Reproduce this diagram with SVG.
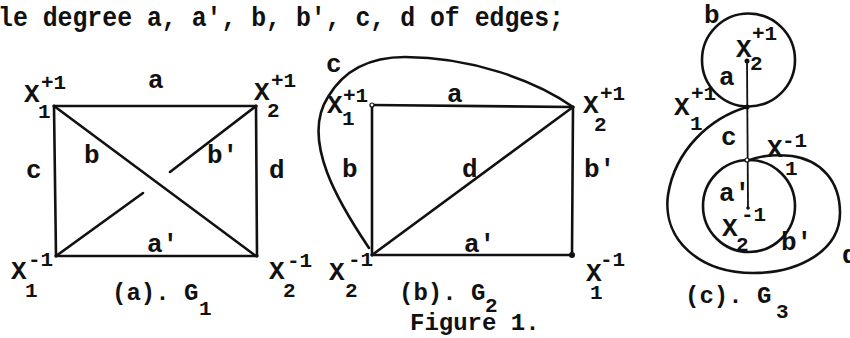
<svg xmlns="http://www.w3.org/2000/svg" width="850" height="338" viewBox="0 0 850 338">
<style>
text{font-family:"Liberation Mono","Courier New",monospace;font-weight:bold;fill:#111}
.l{font-size:26px}
.s{font-size:21px}
.t{font-size:24px}
.e{stroke:#111;stroke-width:2.6;fill:none;stroke-linecap:round}
.th{stroke:#111;stroke-width:1.8;fill:none}
.dot{fill:#111}
.od{fill:#fff;stroke:#111;stroke-width:1.2}
</style>
<rect width="850" height="338" fill="#fff"/>
<text class="t" x="-2" y="26" textLength="566" lengthAdjust="spacingAndGlyphs" style="font-size:27px">le degree a, a', b, b', c, d of edges;</text>

<g id="connectors">
  <g id="edges-a">
    <line class="e" x1="54" y1="106" x2="256" y2="106"/>
    <line class="e" x1="54" y1="106" x2="56" y2="256"/>
    <line class="e" x1="56" y1="256" x2="257" y2="256"/>
    <line class="e" x1="256" y1="106" x2="257" y2="256"/>
    <line class="e" x1="54" y1="106" x2="256" y2="256"/>
    <line class="e" x1="56" y1="256" x2="143" y2="193"/>
    <line class="e" x1="170" y1="172" x2="256" y2="106"/>
  </g>
  <g id="edges-b">
    <line class="e" x1="372" y1="105" x2="573" y2="107"/>
    <line class="e" x1="372" y1="105" x2="372" y2="255"/>
    <line class="e" x1="372" y1="255" x2="572" y2="255"/>
    <line class="e" x1="573" y1="107" x2="572" y2="255"/>
    <line class="e" x1="372" y1="255" x2="573" y2="107"/>
    <path class="e" d="M369,248 C340,205 300,140 328,97 C345,68 372,57 405,57 C470,57 535,80 573,107"/>
  </g>
  <g id="edges-c">
    <line class="th" x1="747" y1="61" x2="748" y2="208"/>
    <circle class="e" cx="748.5" cy="60" r="46.5"/>
    <circle class="e" cx="749" cy="206" r="46"/>
    <path class="e" d="M747,107 C710,118 675,150 668,195 C662,240 700,273 753,273 C800,273 840,250 840,213 C840,180 820,160 792,156 C772,154 756,157 747,161"/>
  </g>
</g>

<g id="a-X1p"><circle class="dot" cx="54" cy="106" r="1.5"/><text class="l" x="24" y="102">X</text><text class="s" x="41" y="89">+1</text><text class="s" x="38" y="118">1</text></g>
<g id="a-X2p"><circle class="dot" cx="256" cy="106" r="1.5"/><text class="l" x="254" y="100">X</text><text class="s" x="271" y="87">+1</text><text class="s" x="267" y="117">2</text></g>
<g id="a-X1m"><circle class="dot" cx="56" cy="256" r="1.5"/><text class="l" x="11" y="279">X</text><text class="s" x="28" y="266">-1</text><text class="s" x="25" y="297">1</text></g>
<g id="a-X2m"><circle class="dot" cx="257" cy="256" r="1.5"/><text class="l" x="269" y="279">X</text><text class="s" x="287" y="267">-1</text><text class="s" x="283" y="297">2</text></g>
<g id="a-labels">
  <text class="l" x="148" y="88">a</text>
  <text class="l" x="26" y="178">c</text>
  <text class="l" x="84" y="163">b</text>
  <text class="l" x="207" y="163">b'</text>
  <text class="l" x="269" y="178">d</text>
  <text class="l" x="147" y="252">a'</text>
  <text class="t" x="112" y="300">(a). G</text><text class="s" x="199" y="315">1</text>
</g>

<g id="b-X1p"><circle class="od" cx="372" cy="105" r="2"/><text class="l" x="327" y="113">X</text><text class="s" x="343" y="102">+1</text><text class="s" x="342" y="125">1</text></g>
<g id="b-X2p"><circle class="dot" cx="573" cy="107" r="1.5"/><text class="l" x="583" y="113">X</text><text class="s" x="600" y="100">+1</text><text class="s" x="594" y="131">2</text></g>
<g id="b-X2m"><circle class="dot" cx="372" cy="255" r="1.5"/><text class="l" x="329" y="280">X</text><text class="s" x="348" y="266">-1</text><text class="s" x="345" y="297">2</text></g>
<g id="b-X1m"><circle class="dot" cx="572" cy="255" r="3"/><text class="l" x="586" y="281">X</text><text class="s" x="600" y="266">-1</text><text class="s" x="590" y="299">1</text></g>
<g id="b-labels">
  <text class="l" x="326" y="72">c</text>
  <text class="l" x="447" y="102">a</text>
  <text class="l" x="342" y="177">b</text>
  <text class="l" x="462" y="177">d</text>
  <text class="l" x="584" y="177">b'</text>
  <text class="l" x="464" y="252">a'</text>
  <text class="t" x="399" y="300">(b). G</text><text class="s" x="485" y="312">2</text>
  <text class="t" x="410" y="330">Figure 1.</text>
</g>

<g id="c-X2p"><circle class="dot" cx="747" cy="61" r="2.5"/><text class="l" x="736" y="57">X</text><text class="s" x="752" y="40">+1</text><text class="s" x="750" y="70">2</text></g>
<g id="c-X1p"><circle class="dot" cx="747" cy="107" r="2.5"/><text class="l" x="674" y="115">X</text><text class="s" x="691" y="100">+1</text><text class="s" x="690" y="130">1</text></g>
<g id="c-X1m"><circle class="od" cx="747" cy="160" r="2"/><text class="l" x="767" y="157">X</text><text class="s" x="782" y="147">-1</text><text class="s" x="785" y="175">1</text></g>
<g id="c-X2m"><circle class="dot" cx="748" cy="208" r="1.8"/><text class="l" x="722" y="236">X</text><text class="s" x="741" y="221">-1</text><text class="s" x="736" y="251">2</text></g>
<g id="c-labels">
  <text class="l" x="704" y="23">b</text>
  <text class="l" x="719" y="85">a</text>
  <text class="l" x="721" y="145">c</text>
  <text class="l" x="719" y="201">a'</text>
  <text class="l" x="781" y="250">b'</text>
  <text class="l" x="842" y="263">d</text>
  <text class="t" x="685" y="303">(c). G</text><text class="s" x="776" y="318">3</text>
</g>
</svg>
